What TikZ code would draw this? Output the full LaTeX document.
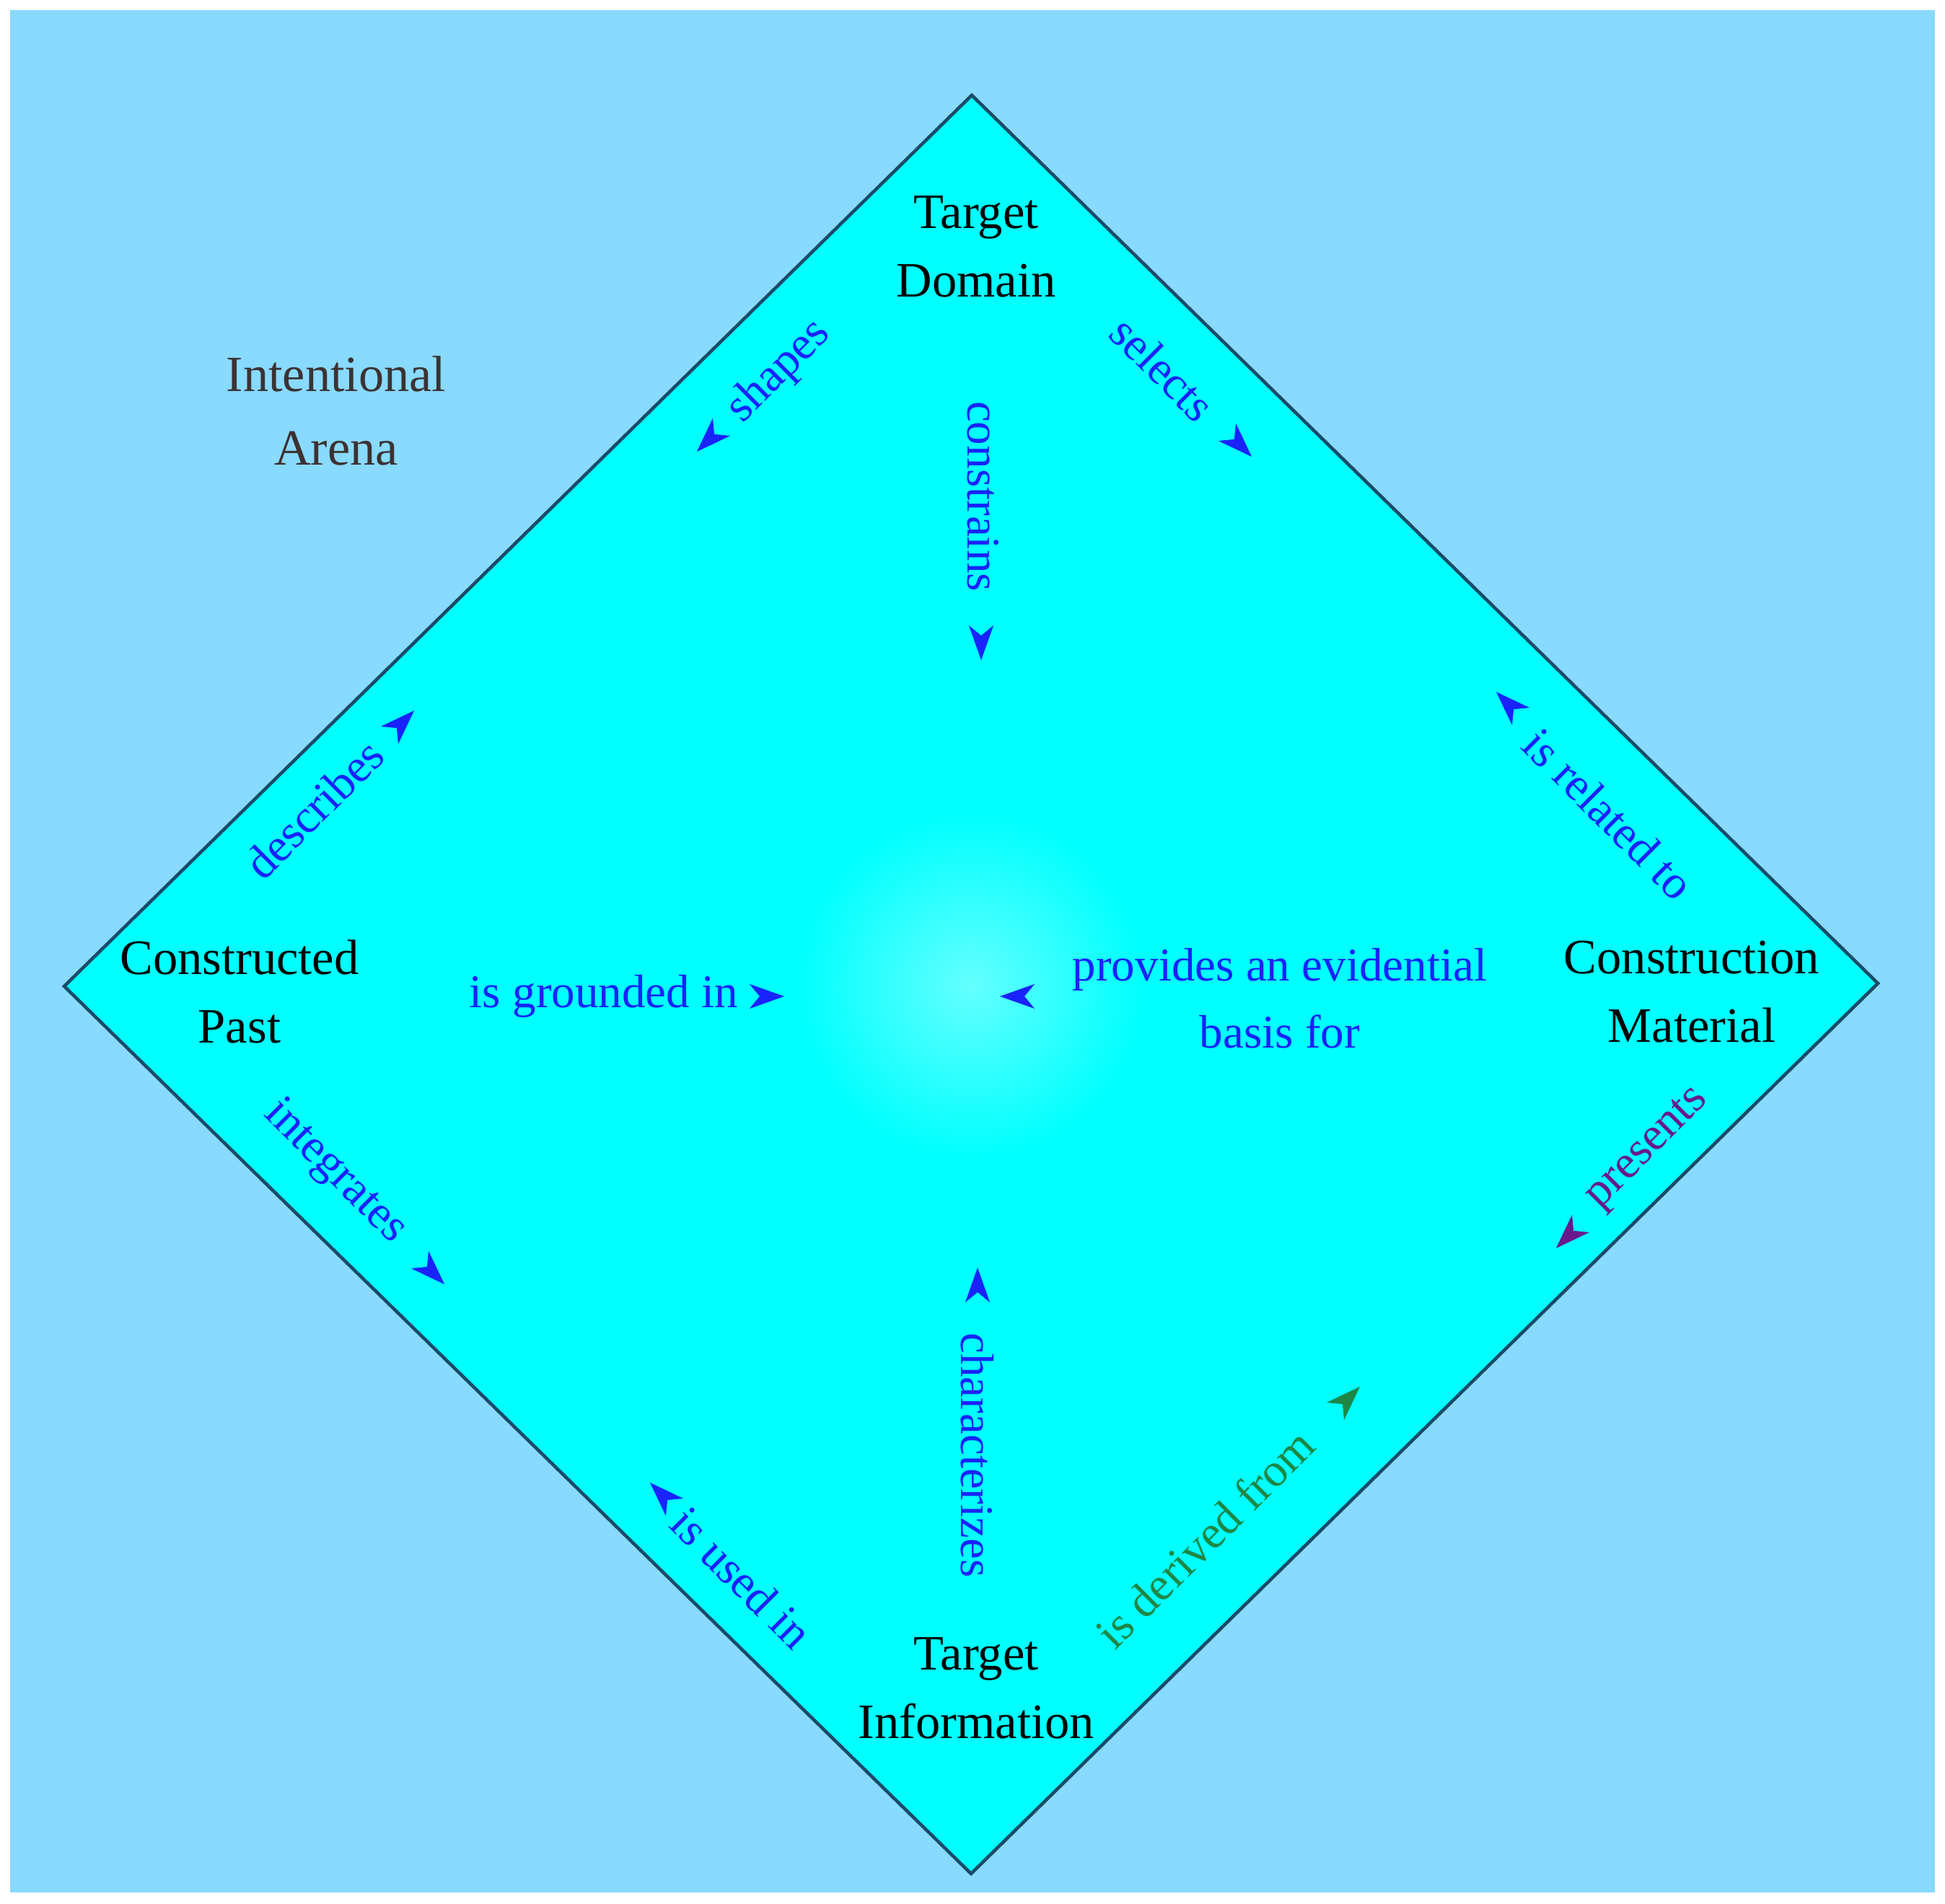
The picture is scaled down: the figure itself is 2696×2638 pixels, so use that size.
\documentclass[tikz,border=0pt]{standalone}
\usepackage{fontspec}
\setmainfont{Liberation Serif}
\usetikzlibrary{arrows.meta}

\definecolor{arenabg}{RGB}{136,218,255}
\definecolor{diamondfill}{RGB}{0,255,255}
\definecolor{glowfill}{RGB}{100,255,255}
\definecolor{rimline}{RGB}{25,75,105}
\definecolor{relblue}{RGB}{25,35,250}
\definecolor{relpurple}{RGB}{105,25,140}
\definecolor{relgreen}{RGB}{30,135,70}
\definecolor{arenatext}{RGB}{60,50,50}

\begin{document}
\begin{tikzpicture}[x=0.01cm,y=0.01cm,
    concept/.style={align=center,inner sep=0pt,font=\fontsize{19.5}{27}\selectfont},
    relation/.style={inner sep=0pt,text=relblue,font=\fontsize{18.5}{26.5}\selectfont},
    headonly/.style={relblue,line width=0.2pt,-{Stealth[length=0.48cm,width=0.34cm,inset=0.14cm]}}]

\useasboundingbox (0,0) rectangle (2696,2638);

% Outer arena
\fill[arenabg] (14,15) rectangle (2682,2624);

% The diamond and its glow
\filldraw[fill=diamondfill,draw=rimline,line width=1.3pt]
    (1347,2506) -- (2603,1275) -- (1346,41) -- (89,1271) -- cycle;
\shade[inner color=glowfill,outer color=diamondfill] (1346,1272) circle (240);

% Corners
\node[concept] (td) at (1353,2296) {Target\\Domain};
\node[concept] (cp) at (332,1263) {Constructed\\Past};
\node[concept] (cm) at (2345,1263) {Construction\\Material};
\node[concept] (ti) at (1353,298) {Target\\Information};
\node[concept,text=arenatext,font=\fontsize{20}{29}\selectfont] (ia) at (466,2069) {Intentional\\Arena};

% Relations
\node[relation,rotate=45] (shapes) at (1080,2123) {shapes};
\node[relation,rotate=-45] (selects) at (1612,2127) {selects};
\node[relation,rotate=-90] (constrains) at (1363,1950) {constrains};
\node[relation,rotate=45] (describes) at (435,1517) {describes};
\node[relation,rotate=-45] (related) at (2230,1510) {is related to};
\node[relation] (grounded) at (837,1257) {is grounded in};
\node[relation,align=center] (provides) at (1774,1254) {provides an evidential\\basis for};
\node[relation,rotate=-45] (integrates) at (464,1013) {integrates};
\node[relation,rotate=45,text=relpurple] (presents) at (2285,1045) {presents};
\node[relation,rotate=-90] (characterizes) at (1355,621) {characterizes};
\node[relation,rotate=-45] (used) at (1028,451) {is used in};
\node[relation,rotate=45,text=relgreen] (derived) at (1670,506) {is derived from};

% Arrow heads
\coordinate (tipShapes) at (966,2012);
\coordinate (tipSelects) at (1735,2005);
\coordinate (tipConstrains) at (1360,1723);
\coordinate (tipDescribes) at (574,1653);
\coordinate (tipRelated) at (2074,1679);
\coordinate (tipGrounded) at (1087,1257);
\coordinate (tipProvides) at (1386,1257);
\coordinate (tipIntegrates) at (616,858);
\coordinate (tipPresents) at (2157,908);
\coordinate (tipCharacterizes) at (1355,881);
\coordinate (tipUsed) at (901,583);
\coordinate (tipDerived) at (1885,716);

\draw[headonly] ([shift={(45:32)}]tipShapes) -- (tipShapes);
\draw[headonly] ([shift={(135:32)}]tipSelects) -- (tipSelects);
\draw[headonly] ([shift={(90:32)}]tipConstrains) -- (tipConstrains);
\draw[headonly] ([shift={(225:32)}]tipDescribes) -- (tipDescribes);
\draw[headonly] ([shift={(315:32)}]tipRelated) -- (tipRelated);
\draw[headonly] ([shift={(180:32)}]tipGrounded) -- (tipGrounded);
\draw[headonly] ([shift={(0:32)}]tipProvides) -- (tipProvides);
\draw[headonly] ([shift={(135:32)}]tipIntegrates) -- (tipIntegrates);
\draw[headonly,relpurple] ([shift={(45:32)}]tipPresents) -- (tipPresents);
\draw[headonly] ([shift={(270:32)}]tipCharacterizes) -- (tipCharacterizes);
\draw[headonly] ([shift={(315:32)}]tipUsed) -- (tipUsed);
\draw[headonly,relgreen] ([shift={(225:32)}]tipDerived) -- (tipDerived);

\end{tikzpicture}
\end{document}
